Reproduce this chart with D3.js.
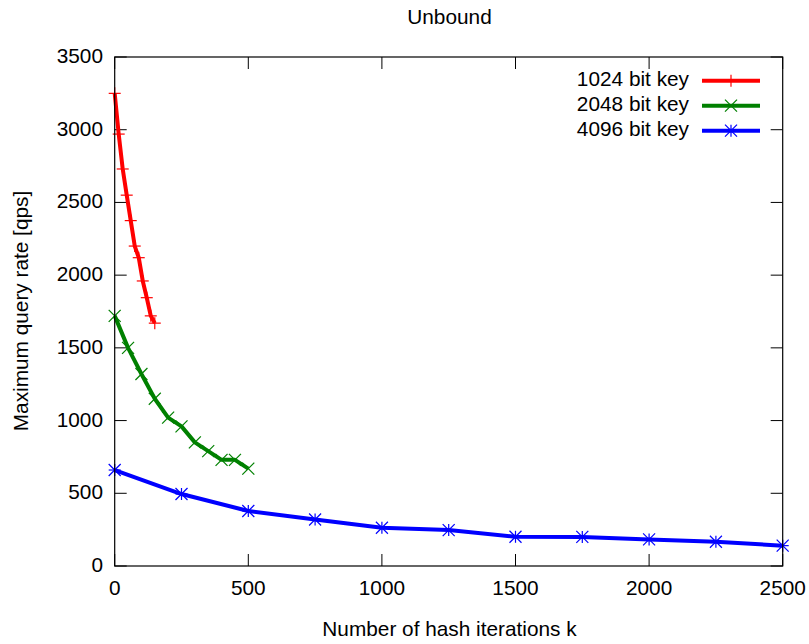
<!DOCTYPE html>
<html><head><meta charset="utf-8">
<script src="https://cdn.jsdelivr.net/npm/d3@7"></script>
<style>body{margin:0;background:#fff}svg{display:block}text{font-family:"Liberation Sans",Arial,sans-serif;fill:#000}</style>
</head><body>
<svg id="c" width="809" height="644"></svg>
<script>
const titleText = "Unbound";
const xTitle = "Number of hash iterations k";
const yTitle = "Maximum query rate [qps]";
const x1024 = [0, 15, 30, 45, 60, 75, 90, 105, 120, 135, 150];
const y1024 = [3250, 2970, 2730, 2550, 2375, 2200, 2120, 1960, 1845, 1720, 1670];
const x2048 = [0, 50, 100, 150, 200, 250, 300, 350, 400, 450, 500];
const y2048 = [1720, 1500, 1320, 1150, 1020, 960, 850, 790, 730, 730, 670];
const x4096 = [0, 250, 500, 750, 1000, 1250, 1500, 1750, 2000, 2250, 2500];
const y4096 = [660, 495, 378, 320, 263, 247, 201, 200, 183, 167, 140];
const seriesNames = ["1024 bit key", "2048 bit key", "4096 bit key"];
const seriesColors = ["#ff0000", "#008000", "#0000ff"];
const seriesMarkers = ["plus", "cross", "star"];
const xTicks = [0, 500, 1000, 1500, 2000, 2500];
const yTicks = [0, 500, 1000, 1500, 2000, 2500, 3000, 3500];

const svg = d3.select("#c");
const L = 114.7, R = 782.7, T = 57, B = 566;
const x = d3.scaleLinear().domain([0, 2500]).range([L, R]);
const y = d3.scaleLinear().domain([0, 3500]).range([B, T]);
const fs = 20.8;

const tl = 12;
const g = svg.append("g").attr("stroke", "#000").attr("stroke-width", 1);
xTicks.forEach(v => {
  g.append("line").attr("x1", x(v)).attr("x2", x(v)).attr("y1", B).attr("y2", B - tl);
  g.append("line").attr("x1", x(v)).attr("x2", x(v)).attr("y1", T).attr("y2", T + tl);
});
yTicks.forEach(v => {
  g.append("line").attr("x1", L).attr("x2", L + tl).attr("y1", y(v)).attr("y2", y(v));
  g.append("line").attr("x1", R).attr("x2", R - tl).attr("y1", y(v)).attr("y2", y(v));
});
svg.selectAll(".xt").data(xTicks).enter().append("text")
  .attr("x", d => x(d)).attr("y", 589).attr("text-anchor", "middle")
  .attr("dominant-baseline", "middle").attr("font-size", fs).text(d => d);
svg.selectAll(".yt").data(yTicks).enter().append("text")
  .attr("x", 103).attr("y", d => y(d) + 0.5).attr("text-anchor", "end")
  .attr("dominant-baseline", "middle").attr("font-size", fs).text(d => d);

svg.append("text").attr("x", 449.5).attr("y", 18).attr("text-anchor", "middle")
  .attr("dominant-baseline", "middle").attr("font-size", fs).text(titleText);
svg.append("text").attr("x", 449.5).attr("y", 630).attr("text-anchor", "middle")
  .attr("dominant-baseline", "middle").attr("font-size", fs).text(xTitle);
svg.append("text").attr("transform", "translate(22,311) rotate(-90)").attr("text-anchor", "middle")
  .attr("dominant-baseline", "middle").attr("font-size", fs).text(yTitle);

function marker(sel, type, cx, cy, color) {
  const s = 6;
  const gg = sel.append("g").attr("stroke", color).attr("stroke-width", 1.2).attr("fill", "none");
  const seg = (a, b, c, d) => gg.append("line").attr("x1", cx + a).attr("y1", cy + b).attr("x2", cx + c).attr("y2", cy + d);
  if (type === "plus" || type === "star") { seg(-s, 0, s, 0); seg(0, -s, 0, s); }
  if (type === "cross" || type === "star") { seg(-s, -s, s, s); seg(-s, s, s, -s); }
}

const data = [[x1024, y1024], [x2048, y2048], [x4096, y4096]];
const line = d3.line().x(d => x(d[0])).y(d => y(d[1]));
data.forEach(([xs, ys], i) => {
  const pts = xs.map((v, j) => [v, ys[j]]);
  svg.append("path").datum(pts).attr("d", line).attr("fill", "none")
    .attr("stroke", seriesColors[i]).attr("stroke-width", 4).attr("stroke-linejoin", "round");
  pts.forEach(p => marker(svg, seriesMarkers[i], x(p[0]), y(p[1]), seriesColors[i]));
});

const legY = [80.7, 105.7, 130.7];
seriesNames.forEach((n, i) => {
  svg.append("text").attr("x", 689).attr("y", legY[i]).attr("text-anchor", "end")
    .attr("dominant-baseline", "middle").attr("font-size", fs).text(n);
  svg.append("line").attr("x1", 702).attr("x2", 760).attr("y1", legY[i]).attr("y2", legY[i])
    .attr("stroke", seriesColors[i]).attr("stroke-width", 4);
  marker(svg, seriesMarkers[i], 731, legY[i], seriesColors[i]);
});

svg.append("rect").attr("x", L).attr("y", T).attr("width", R - L).attr("height", B - T)
  .attr("fill", "none").attr("stroke", "#000").attr("stroke-width", 1.2);
</script>
</body></html>
